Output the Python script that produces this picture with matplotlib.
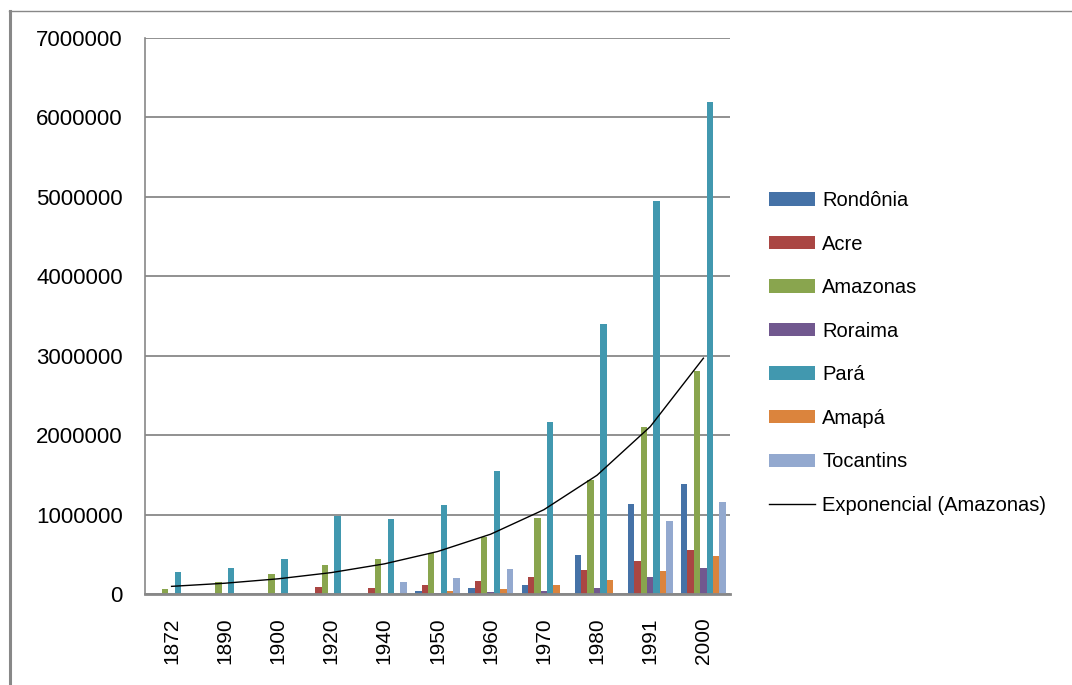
import numpy as np
import matplotlib.pyplot as plt
from matplotlib.lines import Line2D

anos = ['1872', '1890', '1900', '1920', '1940', '1950', '1960', '1970', '1980', '1991', '2000']

rondonia = [0, 0, 0, 0, 0, 37000, 70000, 111000, 491000, 1133000, 1380000]
acre = [0, 0, 0, 92000, 80000, 115000, 158000, 215000, 301000, 418000, 557000]
amazonas = [57600, 147900, 249800, 363200, 438000, 514100, 721200, 955200, 1430100, 2103200, 2812600]
roraima = [0, 0, 0, 0, 0, 18000, 29000, 41000, 79000, 218000, 324000]
para = [275000, 328000, 445000, 983000, 945000, 1123000, 1551000, 2167000, 3403000, 4950000, 6192000]
amapa = [0, 0, 0, 0, 0, 37000, 69000, 114000, 175000, 289000, 477000]
tocantins = [0, 0, 0, 0, 151000, 204000, 316000, 0, 0, 920000, 1157000]

estados = ['Rondônia', 'Acre', 'Amazonas', 'Roraima', 'Pará', 'Amapá', 'Tocantins']
series = [rondonia, acre, amazonas, roraima, para, amapa, tocantins]
cores = ['#4572A7', '#AA4643', '#89A54E', '#71588F', '#4198AF', '#DB843D', '#93A9CF']

grid_cor = '#888888'


def make_plot():
    W, H = 1072, 685
    fig = plt.figure(figsize=(W / 100, H / 100), dpi=100)
    ax = fig.add_axes([145 / W, (H - 594) / H, 585 / W, 556 / H])

    x = np.arange(len(anos))
    largura = 0.12
    handles = []
    for i, (nome, valores, cor) in enumerate(zip(estados, series, cores)):
        h = ax.bar(x + (i - 3) * largura, valores, width=largura, color=cor,
                   label=nome, zorder=2)
        handles.append(h)

    # linha de tendencia exponencial ajustada aos dados do Amazonas
    idx = np.arange(1, len(anos) + 1)
    b, a = np.polyfit(idx, np.log(amazonas), 1)
    tendencia = np.exp(a + b * idx)
    linha, = ax.plot(x, tendencia, color='black', lw=1, zorder=3,
                     label='Exponencial (Amazonas)')
    handles.append(linha)

    ax.set_xlim(-0.5, len(anos) - 0.5)
    ax.set_ylim(0, 7000000)
    ax.set_yticks(np.arange(0, 7000001, 1000000))
    ax.set_yticklabels([str(v) for v in range(0, 7000001, 1000000)],
                       fontsize=16, family='Liberation Sans')
    ax.set_xticks(x)
    ax.set_xticklabels(anos, rotation=90, fontsize=15, family='Liberation Sans')
    ax.tick_params(axis='y', length=0, pad=16)
    ax.tick_params(axis='x', length=0, pad=17)

    ax.grid(axis='y', color=grid_cor, lw=1.3, zorder=0)
    ax.set_axisbelow(True)
    for lado in ['top', 'right']:
        ax.spines[lado].set_visible(False)
    ax.spines['left'].set_color(grid_cor)
    ax.spines['left'].set_linewidth(1.2)
    ax.spines['bottom'].set_color(grid_cor)
    ax.spines['bottom'].set_linewidth(2)

    ax.legend(handles=handles, loc='upper left',
              bbox_to_anchor=(769 / W, 1 - 191 / H),
              bbox_transform=fig.transFigure, frameon=False,
              prop={'family': 'Liberation Sans', 'size': 14.5},
              borderpad=0, borderaxespad=0, handlelength=2.3,
              handleheight=0.65, handletextpad=0.35, labelspacing=1.22)

    # moldura externa (lado esquerdo e topo)
    fig.add_artist(Line2D([9.5 / W, 9.5 / W], [1 - 11 / H, 1 - 683 / H],
                          transform=fig.transFigure, color=grid_cor, lw=2.2))
    fig.add_artist(Line2D([9 / W, 1.0], [1 - 11 / H, 1 - 11 / H],
                          transform=fig.transFigure, color=grid_cor, lw=1))

    plt.savefig('out.png', dpi=100)


def main():
    make_plot()


if __name__ == "__main__":
    main()
